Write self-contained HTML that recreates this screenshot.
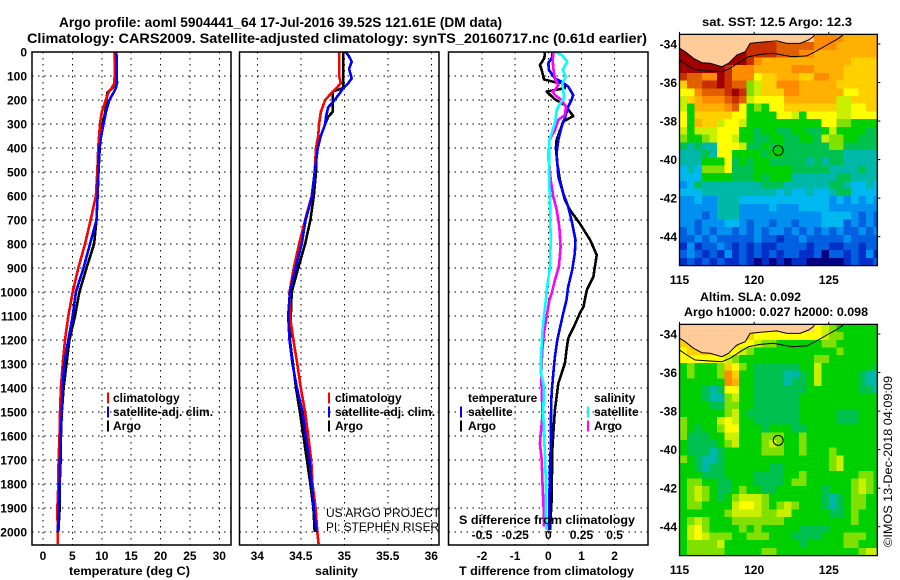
<!DOCTYPE html>
<html lang="en">
<head>
<meta charset="utf-8">
<title>Argo profile</title>
<style>
html,body{margin:0;padding:0;background:#fff;}
svg{display:block;}
text{font-family:"Liberation Sans",sans-serif;fill:#000;}
.b{font-weight:bold;font-size:12px;}
.t{font-weight:bold;font-size:14px;}
.r{font-size:12px;}
</style>
</head>
<body>
<svg id="chart" width="900" height="580" viewBox="0 0 900 580" xmlns="http://www.w3.org/2000/svg">
<text class="t" x="59" y="27" textLength="443" lengthAdjust="spacingAndGlyphs">Argo profile: aoml 5904441_64 17-Jul-2016 39.52S 121.61E (DM data)</text>
<text class="t" x="27" y="43" textLength="620" lengthAdjust="spacingAndGlyphs">Climatology: CARS2009. Satellite-adjusted climatology: synTS_20160717.nc (0.61d earlier)</text>
<text class="b" x="69" y="575" textLength="121" lengthAdjust="spacingAndGlyphs">temperature (deg C)</text>
<text class="b" x="315" y="575" textLength="43" lengthAdjust="spacingAndGlyphs">salinity</text>
<text class="b" x="459" y="575" textLength="175" lengthAdjust="spacingAndGlyphs">T difference from climatology</text>
<text class="b" x="459" y="524" textLength="176" lengthAdjust="spacingAndGlyphs">S difference from climatology</text>
<text class="r" x="326" y="517" textLength="114" lengthAdjust="spacingAndGlyphs">US ARGO PROJECT</text>
<text class="r" x="326" y="531" textLength="113" lengthAdjust="spacingAndGlyphs">PI: STEPHEN RISER</text>
<text class="b" x="702" y="26" textLength="150" lengthAdjust="spacingAndGlyphs">sat. SST: 12.5 Argo: 12.3</text>
<text class="b" x="700" y="301" textLength="101" lengthAdjust="spacingAndGlyphs">Altim. SLA: 0.092</text>
<text class="b" x="684" y="316" textLength="184" lengthAdjust="spacingAndGlyphs">Argo h1000: 0.027 h2000: 0.098</text>
<text class="r" transform="translate(892,547) rotate(-90)" textLength="171" lengthAdjust="spacingAndGlyphs">©IMOS 13-Dec-2018 04:09:09</text>
</svg>
<script>
// depth axis
const depthTicks = [0,100,200,300,400,500,600,700,800,900,1000,1100,1200,1300,1400,1500,1600,1700,1800,1900,2000];
const tempTicks = [0,5,10,15,20,25,30];
const salTicks = ['34','34.5','35','35.5','36'];
const diffTicks = [-2,-1,0,1,2];
const sDiffTicks = ['-0.5','-0.25','0','0.25','0.5'];
const lonTicks = [115,120,125];
const latTicks = [34,36,38,40,42,44];

// temperature panel
const tempDepths = [0,130,150,170,200,250,300,350,400,500,600,700,800,900,1000,1100,1200,1300,1400,1500,1600,1700,1800,1900,2000];
const tempClimDepths = [0,130,150,170,200,250,300,350,400,500,600,700,800,900,1000,1100,1200,1300,1400,1500,1600,1700,1800,1900,2000,2050];
const tempClimatology = [12.3,12.15,11.7,11.1,10.7,10.0,9.7,9.55,9.4,9.25,9.0,8.1,7.15,6.0,5.05,4.3,3.75,3.35,3.05,2.9,2.8,2.65,2.6,2.45,2.5,2.5];
const tempSatellite = [12.5,12.6,12.4,12.0,11.3,10.7,10.3,9.9,9.6,9.4,9.3,9.1,8.0,6.9,5.6,5.05,4.3,3.6,3.35,3.2,3.0,2.9,2.8,2.7,2.5];
const tempArgo = [12.25,12.2,11.85,10.95,10.8,10.6,10.15,9.85,9.65,9.45,9.3,9.1,8.7,7.4,6.2,5.45,4.5,4.0,3.5,3.2,3.05,3.0,2.85,2.85,2.6];

// salinity panel
const salClimDepths = [0,100,130,150,170,200,250,300,350,400,500,600,700,800,900,1000,1100,1200,1300,1400,1500,1600,1700,1800,1900,2000,2050];
const salClimatology = [34.94,34.94,34.96,34.91,34.855,34.78,34.73,34.71,34.70,34.675,34.66,34.625,34.55,34.48,34.42,34.37,34.375,34.415,34.46,34.5,34.55,34.585,34.62,34.635,34.67,34.69,34.705];
const salSatDepths = [0,15,40,70,110,130,150,170,200,230,270,300,350,400,500,600,700,800,900,1000,1100,1200,1300,1400,1500,1600,1700,1800,1900,2000];
const salSatellite = [35.015,35.05,35.085,35.055,35.085,35.045,34.99,34.95,34.89,34.815,34.79,34.78,34.73,34.695,34.66,34.63,34.555,34.51,34.44,34.375,34.355,34.37,34.405,34.455,34.52,34.555,34.6,34.625,34.65,34.68];
const salArgoDepths = [0,150,165,200,250,270,300,350,400,500,600,700,800,900,1000,1100,1200,1300,1400,1500,1600,1700,1800,1900,2000];
const salArgo = [34.99,34.99,34.865,34.865,34.865,34.815,34.78,34.73,34.68,34.675,34.65,34.61,34.55,34.47,34.395,34.385,34.375,34.41,34.445,34.49,34.53,34.57,34.61,34.645,34.66];

// difference panel
const dtArgoDepths = [0,26,54,75,114,124,131,151,165,197,221,267,290,367,401,464,533,617,658,714,783,846,936,992,1061,1089,1151,1193,1242,1297,1381,1492,1589,1658,1867,1992];
const dtArgo = [-0.1,-0.12,-0.25,-0.2,-0.13,0.15,0.47,0.5,-0.05,0.2,0.5,0.75,0.45,0.25,0.23,0.27,0.35,0.5,0.65,0.95,1.26,1.46,1.36,1.16,1.06,0.95,0.75,0.6,0.55,0.5,0.3,0.2,0.15,0.12,0.1,0.05];
const dtSatDepths = [0,20,47,75,110,124,144,179,200,228,276,311,367,422,519,589,644,714,783,839,908,978,1033,1089,1151,1200,1269,1339,1422,1506,1617,1728,1867,1992];
const dtSatellite = [0.13,0.12,0.0,0.02,0.2,0.4,0.6,0.75,0.7,0.6,0.5,0.4,0.3,0.25,0.3,0.45,0.6,0.72,0.82,0.8,0.72,0.6,0.55,0.45,0.35,0.27,0.2,0.15,0.1,0.08,0.08,0.05,0.03,0.02];
const dsArgoDepths = [0,33,68,110,138,158,165,179,200,228,262,283,325,367,436,533,603,658,728,811,894,950,1006,1033,1103,1172,1242,1339,1422,1506,1631,1700,1811,1908,1978];
const dsArgo = [0.04,0.033,0.038,0.05,0.075,0.05,0.03,0.05,0.1,0.133,0.125,0.075,0.05,0.008,0.003,0.018,0.038,0.063,0.083,0.093,0.08,0.05,0.025,0.008,-0.013,-0.033,-0.045,-0.053,-0.05,-0.043,-0.063,-0.05,-0.043,-0.035,-0.033];
const dsSatDepths = [0,12,40,75,103,131,158,193,214,242,297,367,506,644,783,894,978,1033,1103,1172,1269,1339,1394,1506,1589,1700,1811,1922,1992];
const dsSatellite = [0.05,0.1,0.143,0.108,0.133,0.105,0.113,0.118,0.088,0.063,0.05,0.008,0.005,0.013,0.018,0.013,-0.008,-0.018,-0.033,-0.045,-0.055,-0.055,-0.033,-0.038,-0.033,-0.023,-0.018,-0.018,-0.013];

// gridded map colour classes, rows north to south at 0.4 deg, columns west to east at 0.5 deg
const sstRows = [
"LLLLLLLLLLLLLLLLLLddddccccc",
"ggLLLLLLLffffeeeeedddcccccc",
"gggggggggffffeeeddccccccccc",
"gggggggggfdccccccccccccbbbb",
"ggggggfdddcccccdddccccbbbbb",
"feeddgfddd" + "abbcccbbddccbbbbb",
"beeffgfee8" + "9bbdddcccccbbbbbb",
"aadeeefgf8" + "9bbbddccccccaabbbb",
"9bcdddefe9" + "aaaaccccccc99bbbb",
"97ccccdea7" + "87aabbbbbbb99aabb",
"a7bbbbbaa7" + "777aa97aaaa99aaaa",
"a7cbb9aa97" + "777777777aa887777",
"97999aaa77" + "6776677667977" + "7766",
"87789aa97" + "7667766776988" + "77666",
"65655aaa9" + "66767666666886" + "6666",
"55565aa77" + "7767766666666" + "55555",
"555777a67" + "6776666" + "65656655555",
"454888a666" + "777776666655" + "55655",
"4447777666" + "767775555556" + "65555",
"346" + "55555555" + "666555555" + "66" + "54454",
"444" + "5555555" + "555454" + "45445" + "66" + "4444",
"33433" + "555" + "444444444444" + "3434343",
"33333" + "555" + "33334333" + "4444" + "3333333",
"33323" + "555" + "33333333333" + "4444" + "3232",
"33233" + "344" + "32332332333" + "444" + "23232",
"232323323232332323232322323",
"223232222232212232222232222",
"131223212121122221221122122",
"232121312121212211202212131",
"121212112101010110000012112"
];
const slaRows = [
"LLLLLLLLLLLLLLLLLLa98777777",
"bbLLLLLLLbaaaaaaaaa98877777",
"bbbbbbbbaa98877777788777777",
"abbbbbaa98" + "77777777777877777",
"aaaaaa9877" + "77777777887777777",
"78777" + "8ba8" + "766666677" + "97" + "7777776",
"78777" + "8db7" + "766665567" + "97" + "7777655",
"77777" + "7dc7" + "766665667" + "97" + "7777655",
"77765" + "6aa7" + "766666667" + "77" + "7777665",
"77765" + "5897" + "766666677" + "77" + "7777777",
"77776" + "6887" + "766666677" + "77" + "7777777",
"77777" + "7897" + "666666677" + "77" + "7666777",
"87777" + "9a97" + "766666677" + "77" + "7666777",
"87677" + "8aa7" + "776777667" + "77" + "7777777",
"86667" + "7997" + "778887787" + "77" + "7777777",
"76666" + "7897" + "778987787" + "77" + "7777777",
"76665" + "6777" + "778887787" + "77" + "8777777",
"87655" + "6777" + "777777777" + "77" + "8977777",
"77656" + "6777" + "777667777" + "77" + "8977777",
"77766" + "6777" + "766667787" + "77" + "7777887",
"78877" + "6677" + "766667887" + "77" + "7778987",
"78987" + "6678" + "776677777" + "76" + "7778987",
"78987" + "6789" + "998777777" + "76" + "5678877",
"78877" + "779a" + "a98789877" + "76" + "5678877",
"77777" + "7899" + "998899777" + "77" + "6678777",
"78987" + "7788" + "888887777" + "77" + "7778777",
"79a87" + "7778" + "787777766" + "66" + "7777777",
"79a98" + "8877" + "888777666" + "67" + "7788877",
"78888" + "9777" + "777777767" + "77" + "7788777",
"78888" + "8777" + "778877777" + "77" + "7777899"
];
const classColors = ["000080","0030c8","0060e0","0090f0","00b8f0","00b8a8","00c050","00d000","80e000","c8f000","ffff00","ffd000","ffb000","ff8c00","e06000","c83000","a00000"];
const classKeys = "0123456789abcdefg";

// coastline and shelf-edge contour (lon east, lat south)
const coastLon = [115,115.38,115.94,116.5,117.05,117.83,118.28,118.84,119.4,119.73,120.4,121.52,122.19,123.08,123.64,123.97,124.05];
const coastLat = [34.22,34.4,34.74,34.97,35.0,35.18,35.0,34.57,34.4,33.97,33.91,33.84,33.97,33.97,33.79,33.62,33.5];
const shelfLon = [115,115.49,116.05,117.05,117.83,118.39,119.06,119.62,120.4,121.29,122.52,123.53,124.08,124.87,125.65,126];
const shelfLat = [34.83,35.09,35.35,35.4,35.44,35.26,34.92,34.66,34.54,34.48,34.66,34.62,34.4,34.05,33.71,33.5];
const floatLon = 121.61;
const floatLat = 39.52;

const NS = 'http://www.w3.org/2000/svg';
const svg = document.getElementById('chart');
const staticLabels = Array.from(svg.querySelectorAll('text'));
function make(tag, attrs, parent){
  const e = document.createElementNS(NS, tag);
  for (const k in attrs) e.setAttribute(k, attrs[k]);
  (parent || svg).appendChild(e);
  return e;
}
const yDepth = d => 52 + 0.24 * d;
const xTemp = t => 43 + 5.875 * t;
const xSal = s => 257.3 + 87 * (s - 34);
const xDt = t => 548.3 + 33.17 * t;
const xDs = s => 548.3 + 132.7 * s;
const PANEL_TOP = 52, PANEL_BOTTOM = 545;
const panels = [
  {name:'temperature', left:32, right:231},
  {name:'salinity', left:239.5, right:439},
  {name:'difference', left:448.5, right:648}
];
const gridDash = '1.5 4.5';

function drawGrid(p, xs){
  depthTicks.forEach(d => {
    const l = make('line',{x1:p.left,x2:p.right,y1:yDepth(d),y2:yDepth(d),stroke:'#000','stroke-width':1,'stroke-dasharray':gridDash,'shape-rendering':'crispEdges'});
    
    
  });
  xs.forEach(x => {
    const l = make('line',{x1:x,x2:x,y1:PANEL_TOP,y2:PANEL_BOTTOM,stroke:'#000','stroke-width':1,'stroke-dasharray':gridDash,'shape-rendering':'crispEdges'});
    
    
  });
}
function drawFrame(p){
  const r = make('rect',{x:p.left,y:PANEL_TOP,width:p.right-p.left,height:PANEL_BOTTOM-PANEL_TOP,fill:'none',stroke:'#000','stroke-width':1.5});
  
  
}
function drawLine(name, color, xs, ys, fx, width){
  const pts = xs.map((v,i) => fx(v).toFixed(1) + ',' + yDepth(ys[i]).toFixed(1)).join(' ');
  const l = make('polyline',{points:pts,fill:'none',stroke:color,'stroke-width':width||2.6,'stroke-linejoin':'round','shape-rendering':'crispEdges'});
  
  
}
function label(name, str, x, y, anchor, cls){
  const t = make('text',{x:x,y:y,'text-anchor':anchor||'start','class':cls||'b'});
  t.textContent = str;
  
  
  return t;
}
function legendMark(name, color, x, cy){
  const l = make('line',{x1:x,x2:x,y1:cy-5.5,y2:cy+5.5,stroke:color,'stroke-width':2.4,'shape-rendering':'crispEdges'});
  
  
}

// temperature panel
drawGrid(panels[0], tempTicks.map(xTemp));
drawLine('temperature-argo-line','#000',tempArgo,tempDepths,xTemp);
drawLine('temperature-climatology-line','#f00',tempClimatology,tempClimDepths,xTemp);
drawLine('temperature-satellite-line','#00f',tempSatellite,tempDepths,xTemp);
drawFrame(panels[0]);

// salinity panel
drawGrid(panels[1], salTicks.map(s => xSal(+s)));
drawLine('salinity-argo-line','#000',salArgo,salArgoDepths,xSal);
drawLine('salinity-climatology-line','#f00',salClimatology,salClimDepths,xSal);
drawLine('salinity-satellite-line','#00f',salSatellite,salSatDepths,xSal);
drawFrame(panels[1]);

// difference panel
drawGrid(panels[2], diffTicks.map(xDt));
drawLine('t-difference-argo-line','#000',dtArgo,dtArgoDepths,xDt);
drawLine('t-difference-satellite-line','#00f',dtSatellite,dtSatDepths,xDt);
drawLine('s-difference-argo-line','#f0f',dsArgo,dsArgoDepths,xDs);
drawLine('s-difference-satellite-line','#0ff',dsSatellite,dsSatDepths,xDs);
drawFrame(panels[2]);

// axis labels
depthTicks.forEach(d => label('depth-tick-label', String(d), 27, yDepth(d)+4.5, 'end'));
tempTicks.forEach(t => label('temperature-tick-label', String(t), xTemp(t), 560, 'middle'));
salTicks.forEach(s => label('salinity-tick-label', s, xSal(+s), 560, 'middle'));
diffTicks.forEach(t => label('t-difference-tick-label', String(t), xDt(t), 560, 'middle'));
sDiffTicks.forEach(s => label('s-difference-tick-label', s, xDs(+s), 539, 'middle'));

// legends
const mainLegend = [['climatology','#f00',398],['satellite-adj. clim.','#00f',412],['Argo','#000',426]];
mainLegend.forEach(e => {
  legendMark('temperature-legend-mark', e[1], 108, e[2]);
  label('temperature-legend-entry', e[0], 113, e[2]+4);
  legendMark('salinity-legend-mark', e[1], 329, e[2]);
  label('salinity-legend-entry', e[0], 335, e[2]+4);
});
label('difference-legend-temperature-heading','temperature',468,402);
label('difference-legend-salinity-heading','salinity',594,402);
legendMark('difference-legend-mark-temperature-satellite','#00f',461,412);
label('difference-legend-entry','satellite',468,416);
legendMark('difference-legend-mark-temperature-argo','#000',461,426);
label('difference-legend-entry','Argo',468,430);
legendMark('difference-legend-mark-salinity-satellite','#0ff',588,412);
label('difference-legend-entry','satellite',594,416);
legendMark('difference-legend-mark-salinity-argo','#f0f',588,426);
label('difference-legend-entry','Argo',594,430);

// maps
const LON0 = 115, LON1 = 128.25, LAT0 = 33.5, LAT1 = 45.5;
function drawMap(prefix, rows, lat34y){
  const xm = lon => 679.5 + 14.93 * (lon - 115);
  const ym = lat => lat34y + 19.27 * (lat - 34);
  const clipId = prefix + '-clip';
  const defs = make('defs',{});
  const cp = make('clipPath',{id:clipId},defs);
  make('rect',{x:xm(LON0),y:ym(LAT0),width:xm(LON1)-xm(LON0),height:ym(LAT1)-ym(LAT0)},cp);
  const g = make('g',{'clip-path':'url(#'+clipId+')'});
  
  
  rows.forEach((row,r) => {
    for (let c = 0; c < 27; c++){
      const ch = row[c] || row[row.length-1];
      const color = ch === 'L' ? '#ffcc99' : '#' + classColors[classKeys.indexOf(ch)];
      const x0 = xm(LON0 + 0.5*c), x1 = xm(LON0 + 0.5*(c+1));
      const y0 = ym(LAT0 + 0.4*r), y1 = ym(LAT0 + 0.4*(r+1));
      const cell = make('rect',{x:x0,y:y0,width:x1-x0+0.6,height:y1-y0+0.6,fill:color,'shape-rendering':'crispEdges'},g);
      
      
    }
  });
  const landPts = coastLon.map((v,i)=>xm(v).toFixed(1)+','+ym(coastLat[i]).toFixed(1));
  landPts.push(xm(LON0).toFixed(1)+','+ym(LAT0).toFixed(1));
  const land = make('polygon',{points:landPts.join(' '),fill:'#ffcc99'},g);
  
  
  const coast = make('polyline',{points:coastLon.map((v,i)=>xm(v).toFixed(1)+','+ym(coastLat[i]).toFixed(1)).join(' '),fill:'none',stroke:'#000','stroke-width':1},g);
  
  
  const shelf = make('polyline',{points:shelfLon.map((v,i)=>xm(v).toFixed(1)+','+ym(shelfLat[i]).toFixed(1)).join(' '),fill:'none',stroke:'#000','stroke-width':1},g);
  
  
  const mark = make('circle',{cx:xm(floatLon),cy:ym(floatLat),r:5,fill:'none',stroke:'#000','stroke-width':1});
  
  
  const frame = make('rect',{x:xm(LON0),y:ym(LAT0),width:xm(LON1)-xm(LON0),height:ym(LAT1)-ym(LAT0),fill:'none',stroke:'#000','stroke-width':1.3});
  
  
  lonTicks.forEach(lon => {
    label(prefix + '-longitude-label', String(lon), xm(lon), ym(LAT1)+18.5, 'middle');
    const t = make('line',{x1:xm(lon),x2:xm(lon),y1:ym(LAT0)-2.5,y2:ym(LAT0),stroke:'#000','stroke-width':1});
    
    
  });
  latTicks.forEach(lat => {
    label(prefix + '-latitude-label', '-' + lat, 677, ym(lat)+4.5, 'end');
    const t = make('line',{x1:xm(LON1),x2:xm(LON1)+3,y1:ym(lat),y2:ym(lat),stroke:'#000','stroke-width':1});
    
    
  });
}
drawMap('sst', sstRows, 44);
drawMap('sla', slaRows, 334);

// titles and annotations sit above the plotted lines
staticLabels.forEach(t => svg.appendChild(t));
</script>
</body>
</html>
